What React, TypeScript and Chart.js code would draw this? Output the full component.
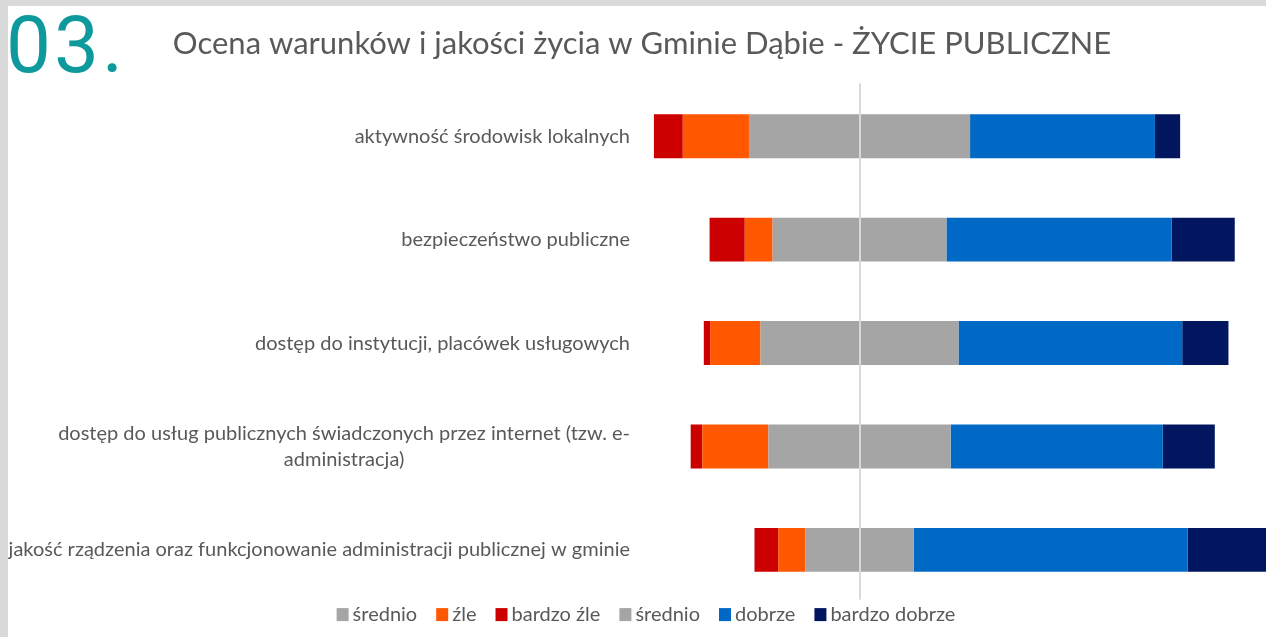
import React, { useEffect, useRef } from "react";
import { Chart, registerables } from "chart.js";

Chart.register(...registerables);

// ---------- data ----------
const categories: (string | string[])[] = [
  "aktywność środowisk lokalnych",
  "bezpieczeństwo publiczne",
  "dostęp do instytucji, placówek usługowych",
  ["dostęp do usług publicznych świadczonych przez internet (tzw. e-", "administracja)"],
  "jakość rządzenia oraz funkcjonowanie administracji publicznej w gminie",
];

// percentages of answers
const bardzoZle = [5.5, 6.7, 1.2, 2.2, 4.5];
const zle = [12.6, 5.3, 9.6, 12.6, 5.2];
const srednio = [42.1, 33.1, 37.7, 34.7, 20.6]; // split half left / half right of zero
const dobrze = [35.2, 42.9, 42.6, 40.4, 52.2];
const bardzoDobrze = [4.8, 12.0, 8.8, 9.9, 17.5];

const seriesLabels = ["średnio", "źle", "bardzo źle", "średnio", "dobrze", "bardzo dobrze"];
const seriesColors = ["#a5a5a5", "#ff5800", "#cc0000", "#a5a5a5", "#0068c5", "#02155f"];

const titleText = "Ocena warunków i jakości życia w Gminie Dąbie - ŻYCIE PUBLICZNE";
const sectionNumber = "03.";

const xMin = -41.8;
const xMax = 77.4;

// ---------- styles ----------
const TEXT_COLOR = "#595959";
const FONT = "Lato";
const LABEL_SIZE = 20;

const centerLinePlugin = {
  id: "centerLine",
  afterDatasetsDraw(chart: any) {
    const { ctx, chartArea, scales } = chart;
    const x = Math.round(scales.x.getPixelForValue(0));
    ctx.save();
    ctx.fillStyle = "#d9d9d9";
    ctx.fillRect(x - 1, chartArea.top - 1, 2, chartArea.bottom - chartArea.top - 1);
    ctx.restore();
  },
};

const categoryLabelsPlugin = {
  id: "categoryLabels",
  afterDraw(chart: any) {
    const { ctx, chartArea, scales } = chart;
    const labels = chart.data.labels as (string | string[])[];
    ctx.save();
    ctx.font = `${LABEL_SIZE}px ${FONT}`;
    ctx.fillStyle = TEXT_COLOR;
    ctx.textBaseline = "middle";
    ctx.textAlign = "center";
    const right = chartArea.left - 10;
    const lineH = 26;
    labels.forEach((lab, i) => {
      const lines = Array.isArray(lab) ? lab : [lab];
      const widths = lines.map((l) => ctx.measureText(l).width);
      const maxW = Math.max(...widths);
      const cx = right - maxW / 2;
      const cy = scales.y.getPixelForValue(i);
      lines.forEach((l, j) => {
        ctx.fillText(l, cx, cy + (j - (lines.length - 1) / 2) * lineH);
      });
    });
    ctx.restore();
  },
};

const bottomLegendPlugin = {
  id: "bottomLegend",
  afterDraw(chart: any) {
    const { ctx, chartArea } = chart;
    const ds = chart.data.datasets;
    ctx.save();
    ctx.font = `${LABEL_SIZE}px ${FONT}`;
    ctx.textBaseline = "middle";
    ctx.textAlign = "left";
    const boxW = 12;
    const boxH = 13;
    const gapText = 4;
    const gapItem = 19;
    const widths = ds.map((d: any) => ctx.measureText(d.label).width);
    const total =
      widths.reduce((a: number, w: number) => a + boxW + gapText + w, 0) + gapItem * (ds.length - 1);
    let x = chart.width / 2 + 9 - total / 2;
    const cy = chartArea.bottom + 13;
    ds.forEach((d: any, i: number) => {
      ctx.fillStyle = d.backgroundColor;
      ctx.fillRect(x, cy - boxH / 2, boxW, boxH);
      x += boxW + gapText;
      ctx.fillStyle = TEXT_COLOR;
      ctx.fillText(d.label, x, cy);
      x += widths[i] + gapItem;
    });
    ctx.restore();
  },
};

export default function App() {
  const canvasRef = useRef<HTMLCanvasElement | null>(null);

  useEffect(() => {
    if (!canvasRef.current) return;
    const half = srednio.map((v) => v / 2);
    const seriesData = [
      half.map((v) => -v),
      zle.map((v) => -v),
      bardzoZle.map((v) => -v),
      half,
      dobrze,
      bardzoDobrze,
    ];
    const chart = new Chart(canvasRef.current, {
      type: "bar",
      data: {
        labels: categories,
        datasets: seriesData.map((data, i) => ({
          label: seriesLabels[i],
          data,
          backgroundColor: seriesColors[i],
          borderWidth: 0,
          stack: "s",
          categoryPercentage: 1,
          barPercentage: 0.425,
        })),
      },
      options: {
        indexAxis: "y",
        responsive: false,
        animation: false,
        layout: { padding: { left: 10, right: 0, top: 0, bottom: 35.4 } },
        scales: {
          x: {
            stacked: true,
            display: false,
            min: xMin,
            max: xMax,
          },
          y: {
            stacked: true,
            display: true,
            grid: { display: false },
            border: { display: false },
            ticks: { display: false },
            afterFit: (scale: any) => {
              scale.width = 622;
            },
          },
        },
        plugins: {
          legend: { display: false },
          tooltip: { enabled: false },
          title: {
            display: true,
            text: titleText,
            color: TEXT_COLOR,
            font: { family: FONT, size: 31, weight: "normal" },
            padding: { top: 19.4, bottom: 21.9 },
          },
        },
      },
      plugins: [centerLinePlugin, categoryLabelsPlugin, bottomLegendPlugin],
    });
    return () => chart.destroy();
  }, []);

  return (
    <div style={{ position: "fixed", left: 0, top: 0, right: 0, bottom: 0, background: "#d9d9d9", overflow: "hidden" }}>
      <div
        style={{
          position: "absolute",
          left: 8,
          top: 6,
          width: 1258,
          height: 631,
          background: "#ffffff",
          overflow: "hidden",
        }}
      >
        <canvas ref={canvasRef} width={1258} height={631} style={{ width: 1258, height: 631, display: "block" }} />
      </div>
      <div
        style={{
          position: "absolute",
          left: 6,
          top: 5,
          fontFamily: "Roboto, sans-serif",
          fontSize: 80,
          lineHeight: 1,
          fontWeight: 400,
          letterSpacing: 3,
          color: "#0e9a9d",
          whiteSpace: "nowrap",
        }}
      >
        {sectionNumber}
      </div>
    </div>
  );
}
